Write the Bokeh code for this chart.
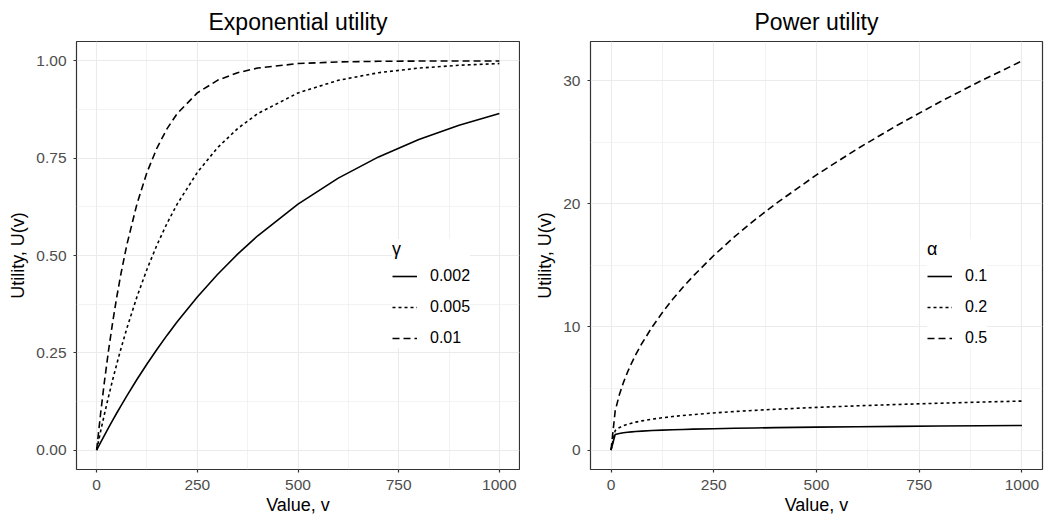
from bokeh.plotting import figure
from bokeh.layouts import row
from bokeh.models import FixedTicker, Legend, LegendItem, ColumnDataSource
from bokeh.embed import file_html
from bokeh.resources import INLINE

# ---- data ----
v = [0, 10, 20, 30, 40, 50, 60, 75, 100, 125, 150, 175, 200, 250, 300, 350,
     400, 500, 600, 700, 800, 900, 1000]

gamma_labels = ["0.002", "0.005", "0.01"]
exp_002 = [0.0, 0.0198, 0.0392, 0.0582, 0.0769, 0.0952, 0.1131, 0.1393, 0.1813,
           0.2212, 0.2592, 0.2953, 0.3297, 0.3935, 0.4512, 0.5034, 0.5507,
           0.6321, 0.6988, 0.7534, 0.7981, 0.8347, 0.8647]
exp_005 = [0.0, 0.0488, 0.0952, 0.1393, 0.1813, 0.2212, 0.2592, 0.3127, 0.3935,
           0.4647, 0.5276, 0.5831, 0.6321, 0.7135, 0.7769, 0.8262, 0.8647,
           0.9179, 0.9502, 0.9698, 0.9817, 0.9889, 0.9933]
exp_01 = [0.0, 0.0952, 0.1813, 0.2592, 0.3297, 0.3935, 0.4512, 0.5276, 0.6321,
          0.7135, 0.7769, 0.8262, 0.8647, 0.9179, 0.9502, 0.9698, 0.9817,
          0.9933, 0.9975, 0.9991, 0.9997, 0.9999, 1.0]

alpha_labels = ["0.1", "0.2", "0.5"]
pow_01 = [0.0, 1.2589, 1.3493, 1.4051, 1.4461, 1.4788, 1.5060, 1.5400, 1.5849,
          1.6207, 1.6505, 1.6761, 1.6986, 1.7370, 1.7689, 1.7964, 1.8206,
          1.8616, 1.8959, 1.9254, 1.9512, 1.9744, 1.9953]
pow_02 = [0.0, 1.5849, 1.8206, 1.9744, 2.0913, 2.1867, 2.2679, 2.3714, 2.5119,
          2.6265, 2.7241, 2.8094, 2.8854, 3.0171, 3.1291, 3.2271, 3.3145,
          3.4657, 3.5944, 3.7070, 3.8073, 3.8981, 3.9811]
pow_05 = [0.0, 3.1623, 4.4721, 5.4772, 6.3246, 7.0711, 7.7460, 8.6603, 10.0,
          11.1803, 12.2474, 13.2288, 14.1421, 15.8114, 17.3205, 18.7083, 20.0,
          22.3607, 24.4949, 26.4575, 28.2843, 30.0, 31.6228]

x_ticks = [0, 250, 500, 750, 1000]
x_minor = [125, 375, 625, 875]
y1_ticks = [0, 0.25, 0.5, 0.75, 1.0]
y1_labels = ["0.00", "0.25", "0.50", "0.75", "1.00"]
y1_minor = [0.125, 0.375, 0.625, 0.875]
y2_ticks = [0, 10, 20, 30]
y2_minor = [5, 15, 25]

DASHES = ["solid", "3 3", "7 4"]
FONT = "Liberation Sans"


def make_fig(title, ylabel, yrange, yticks, yminor, fw, border_left, border_right):
    p = figure(frame_width=fw, frame_height=428, x_range=(-50, 1050),
               y_range=yrange, output_backend="svg", toolbar_location=None,
               min_border_left=border_left, min_border_right=border_right,
               min_border_top=41, min_border_bottom=51,
               background_fill_color="white", border_fill_color="white")
    p.title.text = title
    p.title.align = "center"
    p.title.vertical_align = "top"
    p.title.text_line_height = 0.75
    p.title.text_font = FONT
    p.title.text_font_size = "23px"
    p.title.text_font_style = "normal"
    p.title.text_color = "#000000"
    p.title.standoff = 10
    p.outline_line_color = "#333333"
    p.outline_line_width = 1.2
    p.xaxis.ticker = FixedTicker(ticks=x_ticks, minor_ticks=x_minor)
    p.yaxis.ticker = FixedTicker(ticks=yticks, minor_ticks=yminor)
    for ax in (p.xaxis[0], p.yaxis[0]):
        ax.axis_line_color = None
        ax.major_tick_line_color = "#333333"
        ax.major_tick_line_width = 1.2
        ax.major_tick_out = 3
        ax.major_tick_in = 0
        ax.minor_tick_line_color = None
        ax.major_label_text_font = FONT
        ax.major_label_text_font_size = "15.5px"
        ax.major_label_text_color = "#4D4D4D"
        ax.axis_label_text_font = FONT
        ax.axis_label_text_font_size = "18px"
        ax.axis_label_text_font_style = "normal"
        ax.axis_label_text_color = "#000000"
    p.xaxis.major_label_standoff = 6
    p.xaxis.axis_label_standoff = 2
    p.yaxis.major_label_standoff = 6
    p.yaxis.axis_label_standoff = 5
    p.xaxis.axis_label = "Value, v"
    p.yaxis.axis_label = ylabel
    for g in (p.xgrid[0], p.ygrid[0]):
        g.grid_line_color = "#EBEBEB"
        g.grid_line_width = 1.1
        g.minor_grid_line_color = "#EBEBEB"
        g.minor_grid_line_width = 0.6
    return p


def add_lines(p, ys, labels, title, loc):
    items = []
    for y, lab, dash in zip(ys, labels, DASHES):
        src = ColumnDataSource(dict(x=v, y=y))
        r = p.line("x", "y", source=src, line_color="black", line_width=1.6,
                   line_dash=dash)
        items.append(LegendItem(label=lab, renderers=[r]))
    leg = Legend(items=items, location=loc, title=title,
                 title_text_font=FONT, title_text_font_size="18px",
                 title_text_font_style="normal", title_text_color="#000000",
                 title_standoff=6,
                 label_text_font=FONT, label_text_font_size="16px",
                 label_text_color="#000000",
                 glyph_width=25, glyph_height=20, label_height=20,
                 label_standoff=13, spacing=11, padding=13, margin=0,
                 background_fill_color="white", background_fill_alpha=1.0,
                 border_line_color=None)
    p.add_layout(leg, "center")


p1 = make_fig("Exponential utility", "Utility, U(v)", (-0.05, 1.05),
              y1_ticks, y1_minor, 443, 76, 1)
p1.yaxis.major_label_overrides = {t: s for t, s in zip(y1_ticks, y1_labels)}
add_lines(p1, [exp_002, exp_005, exp_01], gamma_labels, "γ", (316, 121))

p2 = make_fig("Power utility", "Utility, U(v)", (-1.58, 33.2),
              y2_ticks, y2_minor, 452, 70, 7)
add_lines(p2, [pow_01, pow_02, pow_05], alpha_labels, "α", (337, 121))

layout = row(p1, p2, spacing=0)
open("out.html", "w").write(file_html(layout, INLINE))
